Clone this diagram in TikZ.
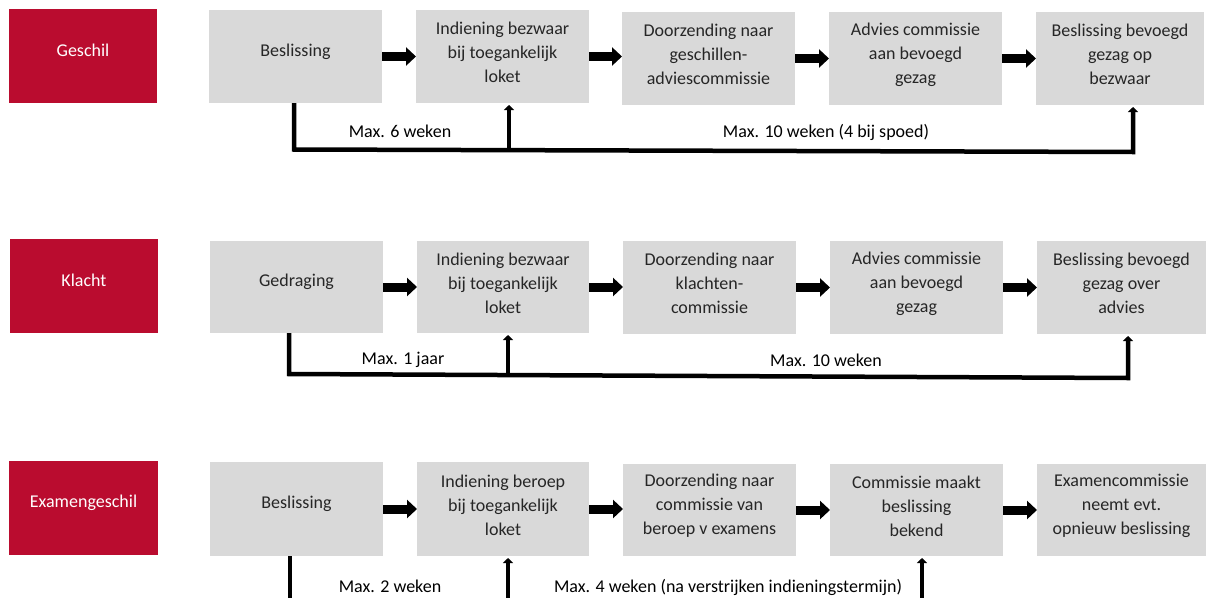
\documentclass[tikz,border=0pt]{standalone}
\usepackage{fontspec}
\setmainfont{Carlito}
\usetikzlibrary{arrows.meta,calc}
\definecolor{kred}{HTML}{BA0C2F}
\definecolor{kgray}{HTML}{D9D9D9}
\definecolor{ktext}{HTML}{262626}
\tikzset{
  base/.style={draw=none,inner sep=0pt,outer sep=0pt,rectangle},
  redbox/.style={base,fill=kred},
  graybox/.style={base,fill=kgray},
  boxtext/.style={inner sep=0pt,align=center,font=\fontsize{18}{24}\selectfont,text=ktext},
  redtext/.style={boxtext,text=white},
  flow/.style={line width=9pt,-{Triangle[length=10pt,width=18pt]}},
  link/.style={line width=4.5pt,line join=miter},
  linkarrow/.style={link,-{Triangle[length=5pt,width=10pt]}},
  lbl/.style={inner sep=0pt,anchor=base,font=\fontsize{18}{24}\selectfont,text=black},
}
\newcommand\mkbox[9]{%
  \node[#1,minimum width={(#6-#4)*1pt},minimum height={(#7-#5)*1pt}] (#3) at ({(#4+#6)/2},{(#5+#7)/2}) {};
  \node[#2] (#3t) at ([yshift=#9]#3.center) {#8};
}
\begin{document}
\begin{tikzpicture}[x=1pt,y=-1pt]
\clip (0,0) rectangle (1206,597);
\fill[white] (0,0) rectangle (1206,597);

% ---------- Row 1 ----------
\mkbox{redbox}{redtext}{R1}{9}{9}{157}{103}{Geschil}{5.5pt}
\mkbox{graybox}{boxtext}{B1}{209}{10}{382}{103}{Beslissing}{5pt}
\mkbox{graybox}{boxtext}{I1}{416}{10}{589}{103}{Indiening bezwaar\\bij toegankelijk\\loket}{4pt}
\mkbox{graybox}{boxtext}{D1}{622}{12}{795}{105}{Doorzending naar\\geschillen-\\adviescommissie}{4pt}
\mkbox{graybox}{boxtext}{A1}{829}{12}{1002}{105}{Advies commissie\\aan bevoegd\\gezag}{4pt}
\mkbox{graybox}{boxtext}{F1}{1036}{12}{1204}{105}{Beslissing bevoegd\\gezag op\\bezwaar}{4pt}

\draw[flow] (B1.east) -- (B1.east -| I1.west);
\draw[flow] (I1.east) -- (I1.east -| D1.west);
\draw[flow] (D1.east) -- (D1.east -| A1.west);
\draw[flow] (A1.east) -- (A1.east -| F1.west);

\coordinate (c1a) at (294,149.5);
\coordinate (c1b) at (1133,152);
\coordinate (c1m) at (509,150.2);
\draw[linkarrow] (B1.south -| c1a) -- (c1a) -- (c1b) -- ($(c1b |- F1.south)+(0,2)$);
\draw[linkarrow] (c1m) -- ($(c1m |- I1.south)+(0,2)$);
\node[lbl] (L1a) at (400,137) {Max. 6 weken};
\node[lbl] (L1b) at (826,137) {Max. 10 weken (4 bij spoed)};

% ---------- Row 2 ----------
\mkbox{redbox}{redtext}{R2}{10}{239}{158}{333}{Klacht}{5.5pt}
\mkbox{graybox}{boxtext}{B2}{210}{241}{383}{333}{Gedraging}{5pt}
\mkbox{graybox}{boxtext}{I2}{417}{241}{589}{333}{Indiening bezwaar\\bij toegankelijk\\loket}{4pt}
\mkbox{graybox}{boxtext}{D2}{623}{241}{796}{334}{Doorzending naar\\klachten-\\commissie}{4pt}
\mkbox{graybox}{boxtext}{A2}{830}{241}{1003}{334}{Advies commissie\\aan bevoegd\\gezag}{4pt}
\mkbox{graybox}{boxtext}{F2}{1037}{241}{1206}{334}{Beslissing bevoegd\\gezag over\\advies}{4pt}

\draw[flow] (B2.east) -- (B2.east -| I2.west);
\draw[flow] (I2.east) -- (I2.east -| D2.west);
\draw[flow] (D2.east) -- (D2.east -| A2.west);
\draw[flow] (A2.east) -- (A2.east -| F2.west);

\coordinate (c2a) at (289,374);
\coordinate (c2b) at (1128,378);
\coordinate (c2m) at (508,375);
\draw[linkarrow] (B2.south -| c2a) -- (c2a) -- (c2b) -- ($(c2b |- F2.south)+(0,2)$);
\draw[linkarrow] (c2m) -- ($(c2m |- I2.south)+(0,2)$);
\node[lbl] (L2a) at (403,364) {Max. 1 jaar};
\node[lbl] (L2b) at (826,366) {Max. 10 weken};

% ---------- Row 3 ----------
\mkbox{redbox}{redtext}{R3}{9}{461}{158}{555}{Examengeschil}{5.5pt}
\mkbox{graybox}{boxtext}{B3}{210}{462}{383}{556}{Beslissing}{5pt}
\mkbox{graybox}{boxtext}{I3}{417}{462}{589}{556}{Indiening beroep\\bij toegankelijk\\loket}{4pt}
\mkbox{graybox}{boxtext}{D3}{623}{464}{796}{556}{Doorzending naar\\commissie van\\beroep v examens}{4pt}
\mkbox{graybox}{boxtext}{C3}{830}{464}{1003}{556}{Commissie maakt\\beslissing\\bekend}{4pt}
\mkbox{graybox}{boxtext}{E3}{1037}{464}{1206}{556}{Examencommissie\\neemt evt.\\opnieuw beslissing}{4pt}

\draw[flow] (B3.east) -- (B3.east -| I3.west);
\draw[flow] (I3.east) -- (I3.east -| D3.west);
\draw[flow] (D3.east) -- (D3.east -| C3.west);
\draw[flow] (C3.east) -- (C3.east -| E3.west);

\coordinate (c3a) at (290,605);
\coordinate (c3m) at (508,605);
\coordinate (c3n) at (922,605);
\draw[link] (B3.south -| c3a) -- (c3a);
\draw[linkarrow] (c3m) -- ($(c3m |- I3.south)+(0,2)$);
\draw[linkarrow] (c3n) -- ($(c3n |- C3.south)+(0,2)$);
\node[lbl] (L3a) at (390,592) {Max. 2 weken};
\node[lbl] (L3b) at (728,592) {Max. 4 weken (na verstrijken indieningstermijn)};
\end{tikzpicture}
\end{document}
